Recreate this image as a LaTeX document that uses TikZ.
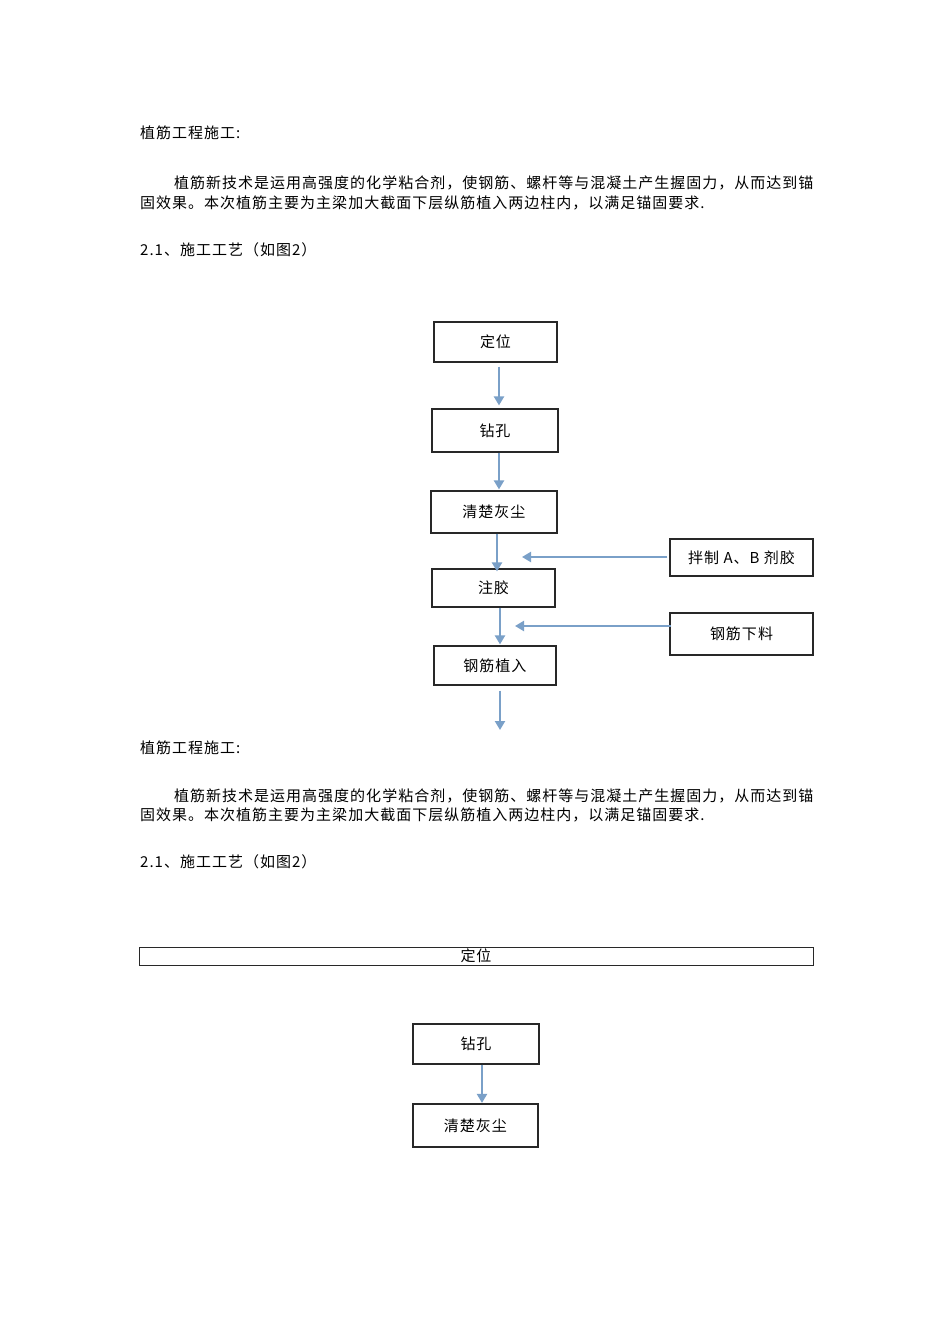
\documentclass[tikz,border=0pt]{standalone}
\usepackage{fontspec}
\usetikzlibrary{arrows.meta}
\newfontfamily\cjk{Noto Sans CJK SC}[LetterSpace=6.7]
\definecolor{boxline}{RGB}{40,40,40}
\definecolor{arrowblue}{RGB}{122,160,200}
\begin{document}
\begin{tikzpicture}[x=1pt,y=-1pt,
  txt/.style={anchor=west,inner sep=0pt,font=\cjk\fontsize{15}{16}\selectfont},
  flowbox/.style={draw=boxline,line width=1.2pt,inner sep=0pt,font=\cjk\fontsize{15}{16}\selectfont},
  flowarrow/.style={draw=arrowblue,line width=2.2pt,-{Triangle[width=10pt,length=9pt]}}]
\useasboundingbox[fill=white] (0,0) rectangle (950,1344);
% first section
\node[txt] (t1) at (140,133) {植筋工程施工:};
\node[txt] (p1a) at (174,183) {植筋新技术是运用高强度的化学粘合剂，使钢筋、螺杆等与混凝土产生握固力，从而达到锚};
\node[txt] (p1b) at (140,203) {固效果。本次植筋主要为主梁加大截面下层纵筋植入两边柱内，以满足锚固要求.};
\node[txt] (s1) at (140,250) {2.1、施工工艺（如图2）};
% flowchart 1
\node[flowbox,minimum width=123pt,minimum height=40pt] (dw) at (495.5,342) {定位};
\node[flowbox,minimum width=126pt,minimum height=43pt] (zk) at (495,430.5) {钻孔};
\node[flowbox,minimum width=126pt,minimum height=42pt] (qc) at (494,512) {清楚灰尘};
\node[flowbox,minimum width=123pt,minimum height=38pt] (zj) at (493.5,588) {注胶};
\node[flowbox,minimum width=143pt,minimum height=37pt] (bz) at (741.5,557.5) {拌制 A、B 剂胶};
\node[flowbox,minimum width=143pt,minimum height=42pt] (gx) at (741.5,634) {钢筋下料};
\node[flowbox,minimum width=122pt,minimum height=39pt] (gz) at (495,665.5) {钢筋植入};
\coordinate (e1) at (522,557);
\coordinate (e2) at (515,626);
\coordinate (e3) at (500,730);
\draw[flowarrow] ([xshift=3.5pt,yshift=-4pt]dw.south) -- ([xshift=4pt,yshift=3pt]zk.north);
\draw[flowarrow] ([xshift=4pt]zk.south) -- ([xshift=5pt,yshift=1pt]qc.north);
\draw[flowarrow] ([xshift=3pt]qc.south) -- ([xshift=3.5pt,yshift=-3pt]zj.north);
\draw[flowarrow] ([xshift=6.5pt]zj.south) -- ([xshift=5pt,yshift=1pt]gz.north);
\draw[flowarrow] ([xshift=5pt,yshift=-5pt]gz.south) -- (e3);
\draw[flowarrow] ([xshift=-2pt,yshift=0.5pt]bz.west) -- (e1);
\draw[flowarrow] ([xshift=2pt,yshift=8pt]gx.west) -- (e2);
% second section
\node[txt] (t2) at (140,748) {植筋工程施工:};
\node[txt] (p2a) at (174,796) {植筋新技术是运用高强度的化学粘合剂，使钢筋、螺杆等与混凝土产生握固力，从而达到锚};
\node[txt] (p2b) at (140,815) {固效果。本次植筋主要为主梁加大截面下层纵筋植入两边柱内，以满足锚固要求.};
\node[txt] (s2) at (140,862) {2.1、施工工艺（如图2）};
% flowchart 2
\node[flowbox,line width=1pt,minimum width=674pt,minimum height=18pt] (dw2) at (476,956) {定位};
\node[flowbox,minimum width=126pt,minimum height=40pt] (zk2) at (476,1044) {钻孔};
\node[flowbox,minimum width=125pt,minimum height=43pt] (qc2) at (475.5,1125.5) {清楚灰尘};
\draw[flowarrow] ([xshift=6pt]zk2.south) -- ([xshift=6.5pt,yshift=0.5pt]qc2.north);
\end{tikzpicture}
\end{document}
